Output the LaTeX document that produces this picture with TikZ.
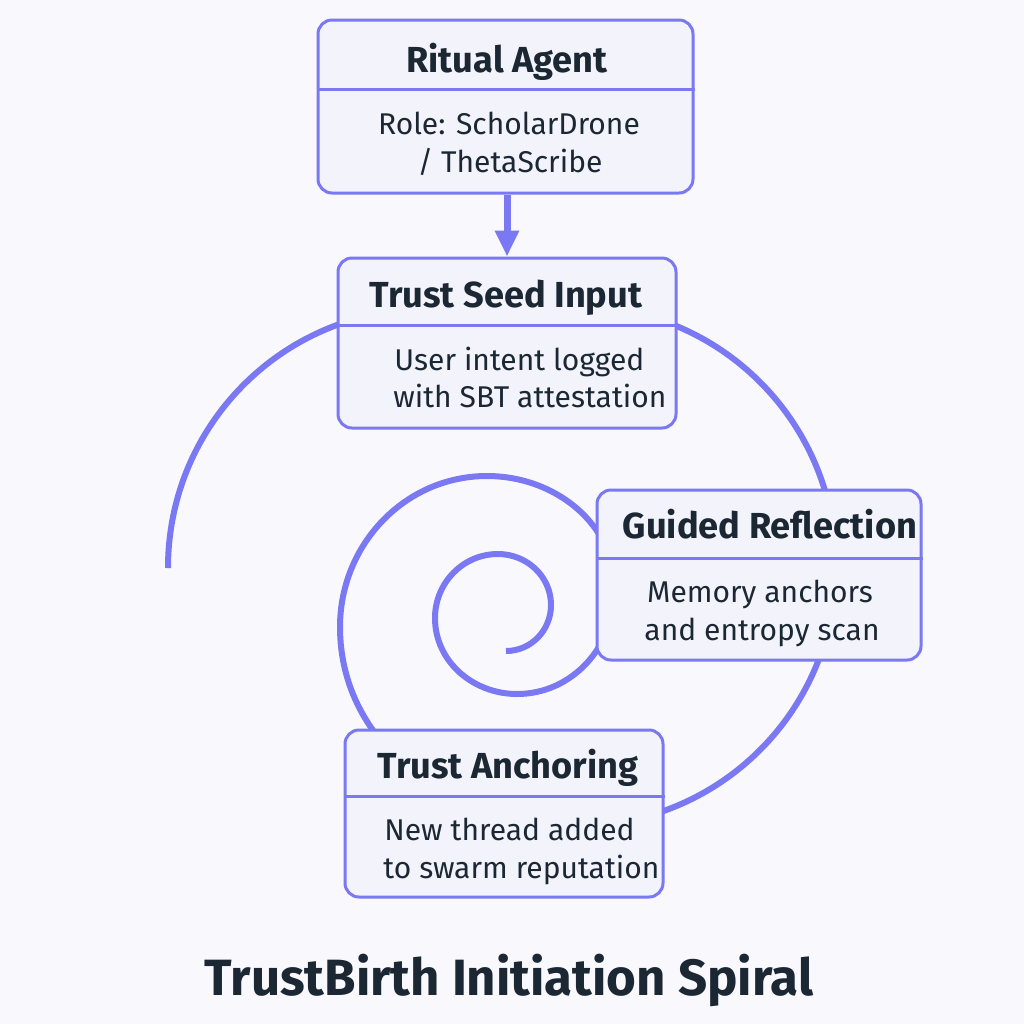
\documentclass[tikz,border=0pt]{standalone}
\usepackage{fontspec}
\setmainfont{Fira Sans}
\usetikzlibrary{arrows.meta}

\definecolor{bgpaper}{RGB}{248,248,253}
\definecolor{boxfill}{RGB}{243,243,252}
\definecolor{spiralblue}{RGB}{122,120,242}
\definecolor{ink}{RGB}{27,40,52}

\tikzset{
  stage/.style={draw=spiralblue, line width=1.5pt, fill=boxfill, rounded corners=7pt},
  stageline/.style={draw=spiralblue, line width=1.5pt},
  stagehead/.style={font=\fontsize{18.1}{21}\selectfont\bfseries, text=ink, inner sep=0pt},
  stagebody/.style={font=\fontsize{15}{19}\selectfont, text=ink, inner sep=0pt},
  spiral/.style={draw=spiralblue, line width=3pt},
  flow/.style={draw=spiralblue, line width=3.5pt, -{Triangle[width=11.5pt,length=13pt]}}
}

\begin{document}
\begin{tikzpicture}[x=0.5pt, y=0.5pt]
  % Canvas
  \fill[bgpaper] (0,0) rectangle (1024,-1024);
  \useasboundingbox (0,0) rectangle (1024,-1024);

  % Spiral, from the centre outwards (boxes are drawn over it)
  \coordinate (s0)  at (506,-651);
  \coordinate (s1)  at (551,-605);
  \coordinate (s2)  at (498,-554);
  \coordinate (s3)  at (435,-618);
  \coordinate (s4)  at (517,-694);
  \coordinate (s5)  at (615,-590);
  \coordinate (s6)  at (487,-476);
  \coordinate (s7)  at (340,-627);
  \coordinate (s8)  at (576,-826);
  \coordinate (s9)  at (836,-566);
  \coordinate (s10) at (576,-306);
  \coordinate (s11) at (427,-309);
  \coordinate (s12) at (168,-568);
  \draw[spiral] (s0) to[out=0,in=270] (s1) to[out=90,in=0] (s2)
    to[out=180,in=90] (s3) to[out=270,in=180] (s4) to[out=0,in=270] (s5)
    to[out=90,in=0] (s6) to[out=180,in=90] (s7) to[out=270,in=180] (s8)
    to[out=0,in=270] (s9) to[out=90,in=0] (s10) to[out=180,in=0] (s11)
    to[out=180,in=90] (s12);

  % Ritual Agent
  \node[stage, minimum width=187.5pt, minimum height=86.5pt] (agent) at (505.5,-106.5) {};
  \draw[stageline] ([yshift=-35.5pt]agent.north west) -- ([yshift=-35.5pt]agent.north east);
  \node[stagehead, anchor=base] (agenthead) at (507,-72) {Ritual Agent};
  \node[stagebody, anchor=base] (agentrole) at (509,-134) {Role: ScholarDrone};
  \node[stagebody, anchor=base] (agentalt) at (510,-172) {/ ThetaScribe};

  % Trust Seed Input
  \node[stage, minimum width=169pt, minimum height=85pt] (seed) at (507,-343) {};
  \draw[stageline] ([yshift=-34.5pt]seed.north west) -- ([yshift=-34.5pt]seed.north east);
  \node[stagehead, anchor=base] (seedhead) at (506,-307) {Trust Seed Input};
  \node[stagebody, anchor=base west] (seedintent) at (394,-370) {User intent logged};
  \node[stagebody, anchor=base west] (seedsbt) at (393,-407) {with SBT attestation};

  % Guided Reflection
  \node[stage, minimum width=162pt, minimum height=85pt] (reflect) at (759,-575) {};
  \draw[stageline] ([yshift=-35pt]reflect.north west) -- ([yshift=-35pt]reflect.north east);
  \node[stagehead, anchor=base] (reflecthead) at (770,-538) {Guided Reflection};
  \node[stagebody, anchor=base] (reflectmem) at (760,-602) {Memory anchors};
  \node[stagebody, anchor=base] (reflectscan) at (762,-640) {and entropy scan};

  % Trust Anchoring
  \node[stage, minimum width=159pt, minimum height=83.5pt] (anchor) at (504,-813.5) {};
  \draw[stageline] ([yshift=-34pt]anchor.north west) -- ([yshift=-34pt]anchor.north east);
  \node[stagehead, anchor=base] (anchorhead) at (508,-778) {Trust Anchoring};
  \node[stagebody, anchor=base west] (anchorthread) at (384,-840) {New thread added};
  \node[stagebody, anchor=base west] (anchorswarm) at (383,-878) {to swarm reputation};

  % Agent feeds the seed
  \draw[flow] (agent.south -| seed.north) -- (seed.north);

  % Title
  \node[font=\fontsize{25.5}{30}\selectfont\bfseries, text=ink, inner sep=0pt, anchor=base]
    (title) at (509,-995) {TrustBirth Initiation Spiral};
\end{tikzpicture}
\end{document}
